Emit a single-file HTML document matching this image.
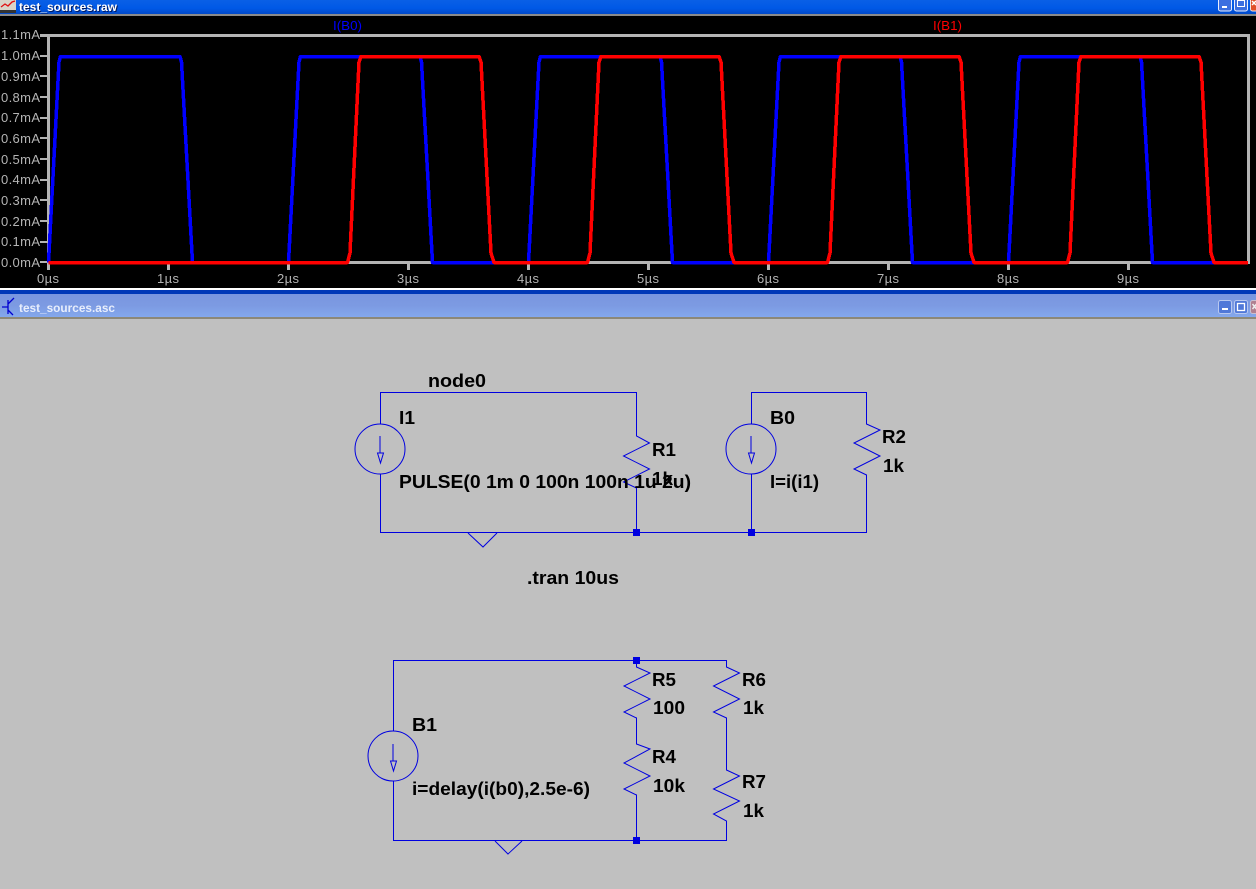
<!DOCTYPE html>
<html><head><meta charset="utf-8"><style>
html,body{margin:0;padding:0;background:#c0c0c0;width:1256px;height:889px;overflow:hidden}
svg{display:block}
.t{font-family:"Liberation Sans",sans-serif;font-size:12px;fill:#fff;font-weight:bold}
.a{font-family:"Liberation Sans",sans-serif;font-size:13px;fill:#b4b4b4}
.b{font-family:"Liberation Sans",sans-serif;font-size:18px;font-weight:bold;fill:#000}
.w{fill:none;stroke:#0000e0;stroke-width:1}
</style></head><body>
<svg width="1256" height="889" viewBox="0 0 1256 889" xmlns="http://www.w3.org/2000/svg">
<defs>
<linearGradient id="g1" x1="0" y1="0" x2="0" y2="1"><stop offset="0" stop-color="#0a60e6"/><stop offset=".6" stop-color="#0058e6"/><stop offset="1" stop-color="#0048c8"/></linearGradient>
<linearGradient id="g2" x1="0" y1="0" x2="0" y2="1"><stop offset="0" stop-color="#7a96df"/><stop offset=".5" stop-color="#7c9ae2"/><stop offset="1" stop-color="#84a8ec"/></linearGradient>
</defs>
<rect width="1256" height="889" fill="#c0c0c0"/>
<!-- top title bar -->
<rect x="0" y="0" width="1256" height="14" fill="url(#g1)"/>
<rect x="0" y="14" width="1256" height="2" fill="#8a8a8a"/>
<rect x="0" y="16" width="1256" height="272" fill="#000"/>
<rect x="0" y="0" width="16" height="13" fill="#d8d4c8"/>
<polyline points="1,7 5,4 8,6 12,2 15,1" fill="none" stroke="#e01010" stroke-width="1.3"/>
<rect x="0" y="10" width="16" height="3" fill="#333"/>
<text class="t" x="20" y="12" textLength="98" lengthAdjust="spacingAndGlyphs" style="fill:#001a60">test_sources.raw</text>
<text class="t" x="19" y="11" textLength="98" lengthAdjust="spacingAndGlyphs">test_sources.raw</text>
<g>
<rect x="1218.5" y="-3" width="13" height="14" rx="2" fill="#3c6fe0" stroke="#e8eefc"/>
<rect x="1222" y="6" width="5" height="2" fill="#fff"/>
<rect x="1234.5" y="-3" width="13" height="14" rx="2" fill="#3c6fe0" stroke="#e8eefc"/>
<rect x="1237.5" y="0.5" width="7" height="6" fill="none" stroke="#fff"/>
<rect x="1250.5" y="-3" width="13" height="14" rx="2" fill="#e0502a" stroke="#f4e4dc"/>
<path d="M1252 1l4 4m0-4l-4 4" stroke="#fff" stroke-width="1.5"/>
</g>
<!-- plot frame -->
<g fill="none" stroke="#b4b4b4" stroke-width="3" shape-rendering="crispEdges">
<path d="M40 35.500H1248.500V262.500H48.500V35.500"/>
</g>
<g stroke="#b4b4b4" stroke-width="2" shape-rendering="crispEdges">
<path d="M40 56H48M40 76H48M40 97H48M40 118H48M40 138H48M40 159H48M40 180H48M40 200H48M40 221H48M40 242H48M40 262H48"/>
</g>
<g stroke="#b4b4b4" stroke-width="3" shape-rendering="crispEdges">
<path d="M48.500 262V270M168.500 262V270M288.500 262V270M408.500 262V270M528.500 262V270M648.500 262V270M768.500 262V270M888.500 262V270M1008.500 262V270M1128.500 262V270"/>
</g>
<g class="a">
<text class="a" x="1" y="39" textLength="39">1.1mA</text>
<text class="a" x="1" y="60" textLength="39">1.0mA</text>
<text class="a" x="1" y="81" textLength="39">0.9mA</text>
<text class="a" x="1" y="102" textLength="39">0.8mA</text>
<text class="a" x="1" y="122" textLength="39">0.7mA</text>
<text class="a" x="1" y="143" textLength="39">0.6mA</text>
<text class="a" x="1" y="164" textLength="39">0.5mA</text>
<text class="a" x="1" y="184" textLength="39">0.4mA</text>
<text class="a" x="1" y="205" textLength="39">0.3mA</text>
<text class="a" x="1" y="226" textLength="39">0.2mA</text>
<text class="a" x="1" y="246" textLength="39">0.1mA</text>
<text class="a" x="1" y="267" textLength="39">0.0mA</text>
<text class="a" x="37" y="283" textLength="22">0µs</text>
<text class="a" x="157" y="283" textLength="22">1µs</text>
<text class="a" x="277" y="283" textLength="22">2µs</text>
<text class="a" x="397" y="283" textLength="22">3µs</text>
<text class="a" x="517" y="283" textLength="22">4µs</text>
<text class="a" x="637" y="283" textLength="22">5µs</text>
<text class="a" x="757" y="283" textLength="22">6µs</text>
<text class="a" x="877" y="283" textLength="22">7µs</text>
<text class="a" x="997" y="283" textLength="22">8µs</text>
<text class="a" x="1117" y="283" textLength="22">9µs</text>
</g>
<text x="333" y="30" font-family="Liberation Sans,sans-serif" font-size="13" fill="#0000ff" textLength="29" lengthAdjust="spacingAndGlyphs">I(B0)</text>
<text x="933" y="30" font-family="Liberation Sans,sans-serif" font-size="13" fill="#ff0000" textLength="29" lengthAdjust="spacingAndGlyphs">I(B1)</text>
<!-- traces -->
<polyline fill="none" stroke="#0000ff" stroke-width="3.500" shape-rendering="crispEdges" stroke-linejoin="round" points="48.500,262.500 59,62 60.500,56.500 180,56.500 181.500,62 192.500,262.500 288.500,262.500 299,62 300.500,56.500 420,56.500 421.500,62 432.500,262.500 528.500,262.500 539,62 540.500,56.500 660,56.500 661.500,62 672.500,262.500 768.500,262.500 779,62 780.500,56.500 900,56.500 901.500,62 912.500,262.500 1008.500,262.500 1019,62 1020.500,56.500 1140,56.500 1141.500,62 1152.500,262.500 1248,262.500"/>
<polyline fill="none" stroke="#ff0000" stroke-width="3.500" shape-rendering="crispEdges" stroke-linejoin="round" points="48.500,262.500 347.500,262.500 350,253 359,62 361,56.500 479,56.500 481,62 491,253 494,262.500 587.500,262.500 590,253 599,62 601,56.500 719,56.500 721,62 731,253 734,262.500 827.500,262.500 830,253 839,62 841,56.500 959,56.500 961,62 971,253 974,262.500 1067.500,262.500 1070,253 1079,62 1081,56.500 1199,56.500 1201,62 1211,253 1214,262.500 1248,262.500"/>
<!-- second title bar -->
<rect x="0" y="288" width="1256" height="2" fill="#fff"/>
<rect x="0" y="290" width="1256" height="4" fill="#0038b8"/>
<rect x="0" y="294" width="1256" height="23" fill="url(#g2)"/>
<rect x="0" y="317" width="1256" height="2" fill="#8c8878"/>
<path d="M2 307H8M8 300V314M14 298L8 304M8 310L13 315" stroke="#0000d0" stroke-width="1.300" fill="none"/>
<text class="t" x="19" y="312" textLength="96" lengthAdjust="spacingAndGlyphs" style="fill:#e8eefc">test_sources.asc</text>
<g>
<rect x="1218.5" y="300.5" width="13" height="13" rx="2" fill="#5078d8" stroke="#b8c8f0"/>
<rect x="1222" y="308" width="6" height="2" fill="#fff"/>
<rect x="1234.5" y="300.5" width="13" height="13" rx="2" fill="#5078d8" stroke="#b8c8f0"/>
<rect x="1237.5" y="303.5" width="7" height="7" fill="none" stroke="#fff" stroke-width="1.300"/>
<rect x="1250.5" y="300.5" width="13" height="13" rx="2" fill="#b08090" stroke="#c8c0d0"/>
<path d="M1252.5 304l4 5m0-5l-4 5" stroke="#eee" stroke-width="1.500"/>
</g>
<!-- schematic 1 -->
<g class="w">
<path d="M380.5 424V392.5H636.5V436L649.5 443 623.5 456 649.5 469 623.5 482 636.5 488V532.5H380.5V474"/>
<circle cx="380" cy="449" r="25"/>
<path d="M380 436V453M377.500 453H383.500L380.500 463Z"/>
<path d="M468 533L483 547 497 533"/>
<path d="M636 532.500H866.500V475L854 469 880 456 854 443 880 430 866.500 424V392.500H751.500V424M751.500 474V532"/>
<circle cx="751" cy="449" r="25"/>
<path d="M751 436V453M748.500 453H754.500L751.500 463Z"/>
<path d="M393.500 731V660.500H726.500V667L739.500 673 713.500 686 739.500 699 713.500 712 726.500 718V770L739.500 776 713.500 789 739.500 801 713.500 814 726.500 821V840.500H393.500V781"/>
<circle cx="393" cy="756" r="25"/>
<path d="M393 744V761M390.500 761H396.500L393.500 771Z"/>
<path d="M495 841L508 854 522 841"/>
<path d="M636.500 660V667L650 673 624 686 650 699 624 712 636.500 718V744L650 749 624 763 650 776 624 789 636.500 795V840"/>
</g>
<g fill="#0000e0">
<rect x="633" y="529" width="7" height="7"/>
<rect x="748" y="529" width="7" height="7"/>
<rect x="633" y="657" width="7" height="7"/>
<rect x="633" y="837" width="7" height="7"/>
</g>
<text class="b" x="428" y="387" textLength="58" lengthAdjust="spacingAndGlyphs">node0</text>
<text class="b" x="399" y="424" textLength="16" lengthAdjust="spacingAndGlyphs">I1</text>
<text class="b" x="399" y="488" textLength="292" lengthAdjust="spacingAndGlyphs">PULSE(0 1m 0 100n 100n 1u 2u)</text>
<text class="b" x="652" y="456" textLength="24" lengthAdjust="spacingAndGlyphs">R1</text>
<text class="b" x="652" y="485" textLength="21" lengthAdjust="spacingAndGlyphs">1k</text>
<text class="b" x="770" y="424" textLength="25" lengthAdjust="spacingAndGlyphs">B0</text>
<text class="b" x="770" y="488" textLength="49" lengthAdjust="spacingAndGlyphs">I=i(i1)</text>
<text class="b" x="882" y="443" textLength="24" lengthAdjust="spacingAndGlyphs">R2</text>
<text class="b" x="883" y="472" textLength="21" lengthAdjust="spacingAndGlyphs">1k</text>
<text class="b" x="527" y="584" textLength="92" lengthAdjust="spacingAndGlyphs">.tran 10us</text>
<text class="b" x="412" y="731" textLength="25" lengthAdjust="spacingAndGlyphs">B1</text>
<text class="b" x="412" y="795" textLength="178" lengthAdjust="spacingAndGlyphs">i=delay(i(b0),2.5e-6)</text>
<text class="b" x="652" y="686" textLength="24" lengthAdjust="spacingAndGlyphs">R5</text>
<text class="b" x="653" y="714" textLength="32" lengthAdjust="spacingAndGlyphs">100</text>
<text class="b" x="652" y="763" textLength="24" lengthAdjust="spacingAndGlyphs">R4</text>
<text class="b" x="653" y="792" textLength="32" lengthAdjust="spacingAndGlyphs">10k</text>
<text class="b" x="742" y="686" textLength="24" lengthAdjust="spacingAndGlyphs">R6</text>
<text class="b" x="743" y="714" textLength="21" lengthAdjust="spacingAndGlyphs">1k</text>
<text class="b" x="742" y="788" textLength="24" lengthAdjust="spacingAndGlyphs">R7</text>
<text class="b" x="743" y="817" textLength="21" lengthAdjust="spacingAndGlyphs">1k</text>
</svg>
</body></html>
